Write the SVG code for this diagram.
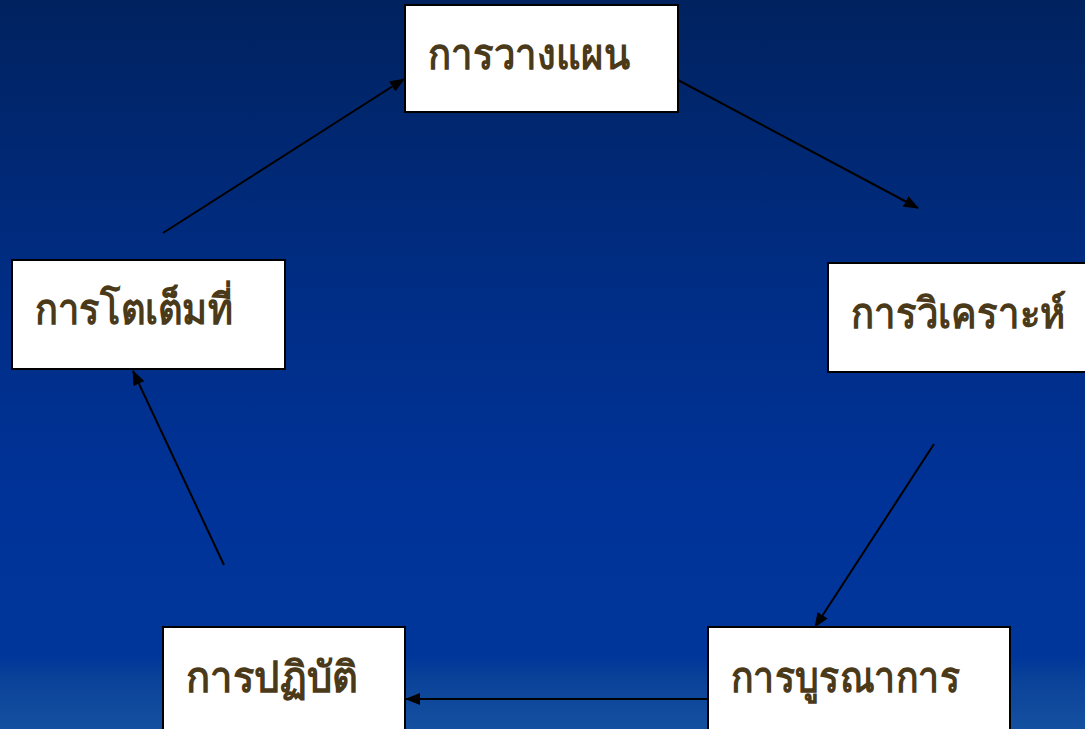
<svg xmlns="http://www.w3.org/2000/svg" width="1085" height="729" viewBox="0 0 1085 729">
<defs>
<linearGradient id="bg" x1="0" y1="0" x2="0" y2="1">
<stop offset="0" stop-color="#00225f"/>
<stop offset="0.4" stop-color="#002d85"/>
<stop offset="0.7" stop-color="#003399"/>
<stop offset="0.9" stop-color="#00369a"/>
<stop offset="0.93" stop-color="#0a4299"/>
<stop offset="1" stop-color="#1450a0"/>
</linearGradient>
<marker id="ah" markerWidth="15" markerHeight="12" refX="14" refY="6" orient="auto" markerUnits="userSpaceOnUse">
<path d="M0,0 L15,6 L0,12 Z" fill="#000"/>
</marker>
<style>
.box{fill:#fff;stroke:#000;stroke-width:2}
.lbl{font-family:"Noto Sans","DejaVu Sans",sans-serif;font-weight:bold;font-size:42px;fill:#4a3a1a}
.con{stroke:#000;stroke-width:2;fill:none;marker-end:url(#ah)}
</style>
</defs>
<rect x="0" y="0" width="1085" height="729" fill="url(#bg)"/>
<g id="connectors">
<line class="con" x1="163" y1="233" x2="404" y2="79"/>
<line class="con" x1="678" y1="80" x2="918" y2="208"/>
<line class="con" x1="934" y1="444" x2="815" y2="627"/>
<line class="con" x1="708" y1="699" x2="406" y2="699"/>
<line class="con" x1="224" y1="565" x2="133" y2="371"/>
</g>
<g id="n1">
<rect class="box" x="405" y="5" width="273" height="107"/>
<text class="lbl" x="428" y="69" textLength="202" lengthAdjust="spacingAndGlyphs">การวางแผน</text>
</g>
<g id="n2">
<rect class="box" x="828" y="263" width="260" height="109"/>
<text class="lbl" x="851" y="328" textLength="215" lengthAdjust="spacingAndGlyphs">การวิเคราะห์</text>
</g>
<g id="n3">
<rect class="box" x="12" y="260" width="273" height="109"/>
<text class="lbl" x="35" y="324" textLength="198" lengthAdjust="spacingAndGlyphs">การโตเต็มที่</text>
</g>
<g id="n4">
<rect class="box" x="163" y="627" width="242" height="110"/>
<text class="lbl" x="186" y="692" textLength="172" lengthAdjust="spacingAndGlyphs">การปฏิบัติ</text>
</g>
<g id="n5">
<rect class="box" x="708" y="627" width="302" height="110"/>
<text class="lbl" x="731" y="692" textLength="229" lengthAdjust="spacingAndGlyphs">การบูรณาการ</text>
</g>
</svg>
